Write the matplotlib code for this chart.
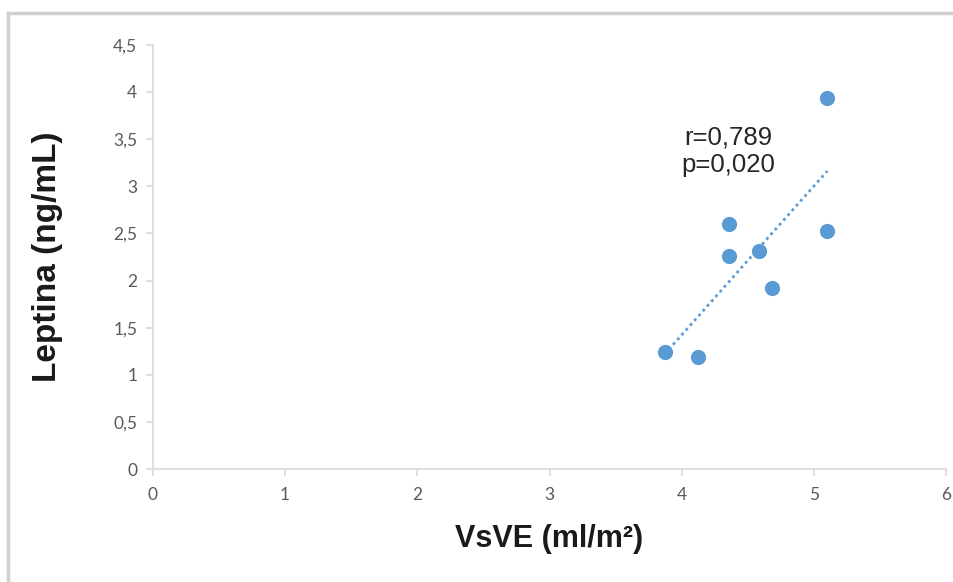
# Scatter of Leptina vs VsVE with a linear trend line
import numpy as np
import matplotlib.pyplot as plt
from matplotlib.lines import Line2D

# data
vsve = [3.87, 4.12, 4.36, 4.36, 4.58, 4.68, 5.10, 5.10]
leptina = [1.24, 1.19, 2.60, 2.26, 2.31, 1.92, 3.94, 2.52]
x_ticks = [0, 1, 2, 3, 4, 5, 6]
y_ticks = [0, 0.5, 1, 1.5, 2, 2.5, 3, 3.5, 4, 4.5]
y_tick_labels = ["0", "0,5", "1", "1,5", "2", "2,5", "3", "3,5", "4", "4,5"]
stats_text = "r=0,789\np=0,020"

blue = "#5b9bd5"
grey = "#d9d9d9"

fig = plt.figure(figsize=(9.54, 5.82), dpi=100)
ax = fig.add_axes([0.160, 0.194, 0.832, 0.729])

ax.scatter(vsve, leptina, s=120, color=blue, zorder=3, linewidths=0)

# trend line (least squares)
slope, intercept = np.polyfit(vsve, leptina, 1)
xs = np.array([min(vsve), max(vsve)])
ax.plot(xs, slope * xs + intercept, color=blue, lw=2, linestyle=(0, (1, 1.3)), zorder=2)

ax.text(4.35, 3.37, stats_text, ha="center", va="center", fontsize=18.5,
        family="Liberation Sans", color="#262626", linespacing=1.2)

ax.set_xlim(0, 6)
ax.set_ylim(0, 4.5)
ax.set_xticks(x_ticks)
ax.set_yticks(y_ticks)
ax.set_yticklabels(y_tick_labels)
for lab in ax.get_xticklabels() + ax.get_yticklabels():
    lab.set_family("Lato")
    lab.set_fontsize(12.5)
    lab.set_color("#595959")

for side in ["top", "right"]:
    ax.spines[side].set_visible(False)
for side in ["left", "bottom"]:
    ax.spines[side].set_color(grey)
    ax.spines[side].set_linewidth(1.2)
ax.tick_params(axis="both", direction="out", length=5, color=grey, width=1.2)
ax.tick_params(axis="x", pad=8)
ax.tick_params(axis="y", pad=6)

ax.set_xlabel("VsVE (ml/m²)", fontsize=22, fontweight="bold", family="Liberation Sans",
              color="#1a1a1a", labelpad=15)
ax.set_ylabel("Leptina (ng/mL)", fontsize=24, fontweight="bold", family="Liberation Sans",
              color="#1a1a1a", labelpad=36)

# light frame around the chart area
fig.add_artist(Line2D([8 / 954, 8 / 954], [0, 1 - 13 / 582], transform=fig.transFigure,
                      color="#d0d0d0", lw=2.5))
fig.add_artist(Line2D([8 / 954, 1], [1 - 13 / 582, 1 - 13 / 582], transform=fig.transFigure,
                      color="#d0d0d0", lw=2.5))

fig.savefig("out.png", dpi=100)
